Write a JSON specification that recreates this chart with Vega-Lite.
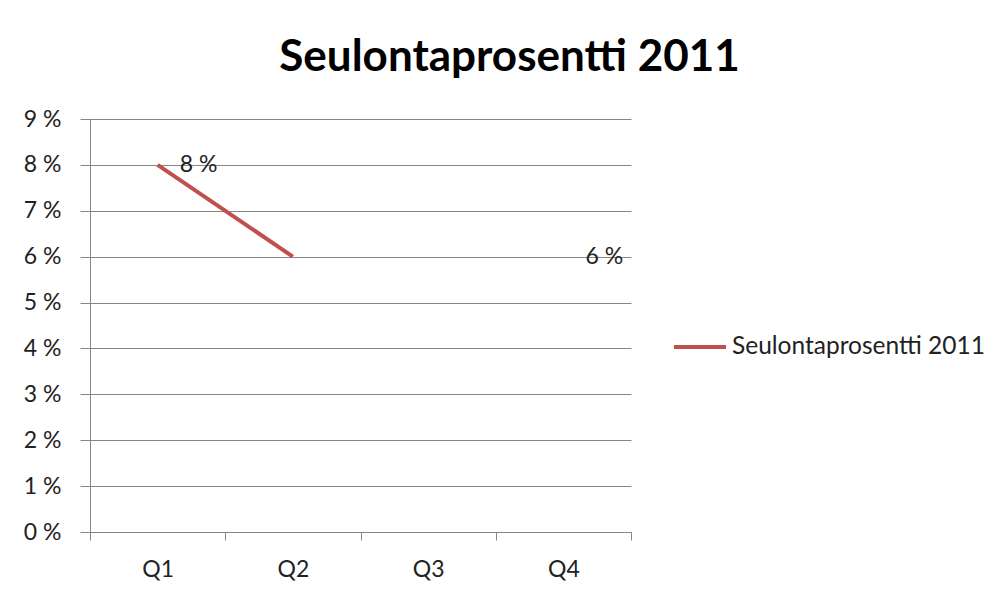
{
  "$schema": "https://vega.github.io/schema/vega-lite/v6.json",
  "width": 541,
  "height": 413,
  "autosize": {"type": "none"},
  "padding": {"left": 90, "top": 119, "right": 367, "bottom": 60},
  "background": "white",
  "title": {
    "text": "Seulontaprosentti 2011",
    "font": "Lato",
    "fontSize": 44,
    "fontWeight": "bold",
    "color": "#000000",
    "anchor": "middle",
    "dx": 149,
    "offset": 28
  },
  "datasets": {
    "series": [
      {"quarter": "Q1", "value": 8, "series": "Seulontaprosentti 2011"},
      {"quarter": "Q2", "value": 6, "series": "Seulontaprosentti 2011"},
      {"quarter": "Q3", "value": null, "series": "Seulontaprosentti 2011"},
      {"quarter": "Q4", "value": null, "series": "Seulontaprosentti 2011"}
    ],
    "labels": [
      {"quarter": "Q1", "value": 8, "label": "8 %"},
      {"quarter": "Q4", "value": 6, "label": "6 %"}
    ]
  },
  "layer": [
    {
      "data": {"name": "series"},
      "mark": {"type": "line", "strokeWidth": 4, "strokeCap": "butt"},
      "encoding": {
        "x": {
          "field": "quarter",
          "type": "nominal",
          "sort": ["Q1", "Q2", "Q3", "Q4"],
          "scale": {"domain": ["Q1", "Q2", "Q3", "Q4"], "paddingInner": 0, "paddingOuter": 0},
          "axis": {
            "title": null,
            "labelAngle": 0,
            "tickBand": "extent",
            "tickSize": 8,
            "labelPadding": 18,
            "labelFont": "Lato",
            "labelFontSize": 23,
            "labelColor": "#222222",
            "domainColor": "#868686",
            "tickColor": "#868686",
            "grid": false
          }
        },
        "y": {
          "field": "value",
          "type": "quantitative",
          "scale": {"domain": [0, 9], "nice": false, "zero": true},
          "axis": {
            "title": null,
            "values": [0, 1, 2, 3, 4, 5, 6, 7, 8, 9],
            "labelExpr": "datum.value + ' %'",
            "tickSize": 10,
            "labelPadding": 19,
            "labelFont": "Lato",
            "labelFontSize": 23,
            "labelColor": "#222222",
            "domainColor": "#868686",
            "tickColor": "#868686",
            "gridColor": "#868686",
            "grid": true
          }
        },
        "color": {
          "field": "series",
          "type": "nominal",
          "scale": {"range": ["#C0504D"]},
          "legend": {
            "title": null,
            "orient": "none",
            "legendX": 582,
            "legendY": 200,
            "padding": 0,
            "symbolType": "stroke",
            "symbolSize": 2704,
            "symbolStrokeWidth": 4,
            "labelOffset": 4,
            "labelLimit": 400,
            "labelFont": "Lato",
            "labelFontSize": 24.5,
            "labelColor": "#222222"
          }
        }
      }
    },
    {
      "data": {"name": "labels"},
      "mark": {"type": "text", "dx": 41, "baseline": "middle", "font": "Lato", "fontSize": 23, "color": "#222222"},
      "encoding": {
        "x": {"field": "quarter", "type": "nominal", "sort": ["Q1", "Q2", "Q3", "Q4"]},
        "y": {"field": "value", "type": "quantitative"},
        "text": {"field": "label"}
      }
    }
  ],
  "config": {
    "view": {"stroke": null},
    "axis": {"domainWidth": 1, "tickWidth": 1, "gridWidth": 1}
  }
}
